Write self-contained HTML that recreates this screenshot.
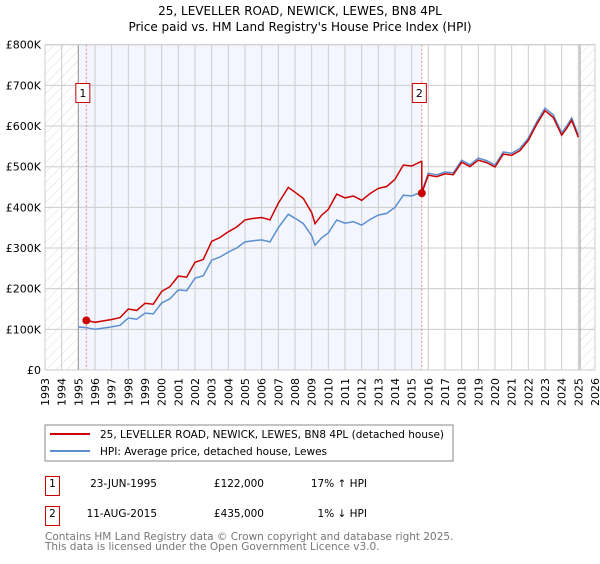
<!DOCTYPE html>
<html><head><meta charset="utf-8"><style>
body{margin:0;background:#fff;font-family:"DejaVu Sans","Liberation Sans",sans-serif;}
svg text{font-family:"DejaVu Sans","Liberation Sans",sans-serif;}
</style></head><body>
<svg id="c" width="600" height="560" xmlns="http://www.w3.org/2000/svg">
<defs><pattern id="hatch" width="7" height="7" patternUnits="userSpaceOnUse" patternTransform="rotate(45)"><line x1="0" y1="0" x2="0" y2="7" stroke="#d4d4d4" stroke-width="0.8"/></pattern></defs>
<text x="300" y="15" text-anchor="middle" font-size="12">25, LEVELLER ROAD, NEWICK, LEWES, BN8 4PL</text>
<text x="300" y="31" text-anchor="middle" font-size="12">Price paid vs. HM Land Registry's House Price Index (HPI)</text>
<g id="plot"></g>
<rect x="45" y="425" width="408" height="36" fill="#fff" stroke="#888"/>
<line x1="50" y1="434" x2="90" y2="434" stroke="#cc0000" stroke-width="2"/>
<text x="100" y="438" font-size="10.5">25, LEVELLER ROAD, NEWICK, LEWES, BN8 4PL (detached house)</text>
<line x1="50" y1="451" x2="90" y2="451" stroke="#5b8fd0" stroke-width="2"/>
<text x="100" y="455" font-size="10.5">HPI: Average price, detached house, Lewes</text>
<g font-size="10.5">
<rect x="45.5" y="476.5" width="14" height="19" fill="#fff" stroke="#c00"/>
<text x="52.5" y="487" text-anchor="middle">1</text>
<text x="157" y="487" text-anchor="end">23-JUN-1995</text>
<text x="264" y="487" text-anchor="end">£122,000</text>
<text x="367" y="487" text-anchor="end">17% ↑ HPI</text>
<rect x="45.5" y="506.5" width="14" height="19" fill="#fff" stroke="#c00"/>
<text x="52.5" y="517" text-anchor="middle">2</text>
<text x="157" y="517" text-anchor="end">11-AUG-2015</text>
<text x="264" y="517" text-anchor="end">£435,000</text>
<text x="367" y="517" text-anchor="end">1% ↓ HPI</text>
</g>
<text x="45" y="540" font-size="10.5" fill="#777">Contains HM Land Registry data © Crown copyright and database right 2025.</text>
<text x="45" y="550" font-size="10.5" fill="#777">This data is licensed under the Open Government Licence v3.0.</text>
</svg>
<script>
const hpiYears=[1995,1995.5,1996,1996.5,1997,1997.5,1998,1998.5,1999,1999.5,2000,2000.5,2001,2001.5,2002,2002.5,2003,2003.5,2004,2004.5,2005,2005.5,2006,2006.5,2007,2007.6,2008,2008.5,2009,2009.2,2009.6,2010,2010.5,2011,2011.5,2012,2012.5,2013,2013.5,2014,2014.5,2015,2015.6,2016,2016.5,2017,2017.5,2018,2018.5,2019,2019.5,2020,2020.5,2021,2021.5,2022,2022.5,2023,2023.5,2024,2024.3,2024.6,2025];
const hpiValues=[106,104,100,103,106,110,128,125,140,138,165,175,197,195,226,232,270,278,290,300,315,318,320,315,350,383,373,360,330,307,325,337,369,361,365,356,370,381,385,400,430,428,438,484,480,487,485,516,505,521,515,504,536,533,545,570,610,644,627,583,600,620,578];
const saleYears=[1995.48,2015.61];
const salePrices=[122,435];
const yTicks=[0,100,200,300,400,500,600,700,800];
const yLabels=["£0","£100K","£200K","£300K","£400K","£500K","£600K","£700K","£800K"];
const xYears=[];for(let y=1993;y<=2026;y++)xYears.push(y);

const X0=45,X1=595,Y0=370,Y1=44.7;
const x=v=>X0+(v-1993)/(2026-1993)*(X1-X0);
const y=v=>Y0-v/800*(Y0-Y1);
const NS="http://www.w3.org/2000/svg";
const g=document.getElementById('plot');
function mk(t,a){const e=document.createElementNS(NS,t);for(const k in a)e.setAttribute(k,a[k]);g.appendChild(e);return e;}
function hpiAt(t){for(let i=0;i<hpiYears.length-1;i++){if(t>=hpiYears[i]&&t<=hpiYears[i+1]){const f=(t-hpiYears[i])/(hpiYears[i+1]-hpiYears[i]);return hpiValues[i]+f*(hpiValues[i+1]-hpiValues[i]);}}return hpiValues[hpiValues.length-1];}

let e=mk('rect',{x:x(1995),y:Y1,width:x(saleYears[1])-x(1995),height:Y0-Y1,fill:'#f3f6fe'});


e=mk('rect',{x:X0,y:Y1,width:x(1995)-X0,height:Y0-Y1,fill:'url(#hatch)'});


e=mk('rect',{x:x(2025.1),y:Y1,width:X1-x(2025.1),height:Y0-Y1,fill:'url(#hatch)'});


xYears.forEach(v=>{const l=mk('line',{x1:x(v),x2:x(v),y1:Y1,y2:Y0,stroke:'#ccc','stroke-width':1});


const t=mk('text',{transform:`translate(${x(v)+4},${Y0+36}) rotate(-90)`,'font-size':11});t.textContent=v;

});
yTicks.forEach((v,i)=>{const l=mk('line',{x1:X0,x2:X1,y1:y(v),y2:y(v),stroke:'#ccc','stroke-width':1});


const t=mk('text',{x:X0-4,y:y(v)+4,'text-anchor':'end','font-size':11});t.textContent=yLabels[i];

});
e=mk('line',{x1:x(1995),x2:x(1995),y1:Y1,y2:Y0,stroke:'#999'});


e=mk('line',{x1:x(2025.1),x2:x(2025.1),y1:Y1,y2:Y0,stroke:'#999'});


saleYears.forEach((s,i)=>{const l=mk('line',{x1:x(s),x2:x(s),y1:Y1,y2:Y0,stroke:'#e88','stroke-dasharray':'2,2'});


const r=mk('rect',{x:x(s)-(i?9.5:10.5),y:83.5,width:14,height:19,fill:'#fff',stroke:'#c00'});


const t=mk('text',{x:x(s)-(i?2.5:3.5),y:97,'text-anchor':'middle','font-size':11});t.textContent=i+1;

});
let d=hpiYears.map((t,i)=>(i?'L':'M')+x(t).toFixed(1)+' '+y(hpiValues[i]).toFixed(1)).join(' ');
e=mk('path',{d:d,fill:'none',stroke:'#5b8fd0','stroke-width':1.5});


const r1=salePrices[0]/hpiAt(saleYears[0]),r2=salePrices[1]/hpiAt(saleYears[1]);
let pts=[[saleYears[0],salePrices[0]]];
hpiYears.forEach((t,i)=>{if(t>saleYears[0]&&t<saleYears[1])pts.push([t,hpiValues[i]*r1]);});
pts.push([saleYears[1],hpiAt(saleYears[1])*r1]);pts.push([saleYears[1],salePrices[1]]);
hpiYears.forEach((t,i)=>{if(t>saleYears[1])pts.push([t,hpiValues[i]*r2]);});
d=pts.map((p,i)=>(i?'L':'M')+x(p[0]).toFixed(1)+' '+y(p[1]).toFixed(1)).join(' ');
e=mk('path',{d:d,fill:'none',stroke:'#cc0000','stroke-width':1.5});


saleYears.forEach((s,i)=>{const c=mk('circle',{cx:x(s),cy:y(salePrices[i]),r:4,fill:'#cc0000'});

});
e=mk('rect',{x:X0,y:Y1,width:X1-X0,height:Y0-Y1,fill:'none',stroke:'#ccc'});


</script>
</body></html>
